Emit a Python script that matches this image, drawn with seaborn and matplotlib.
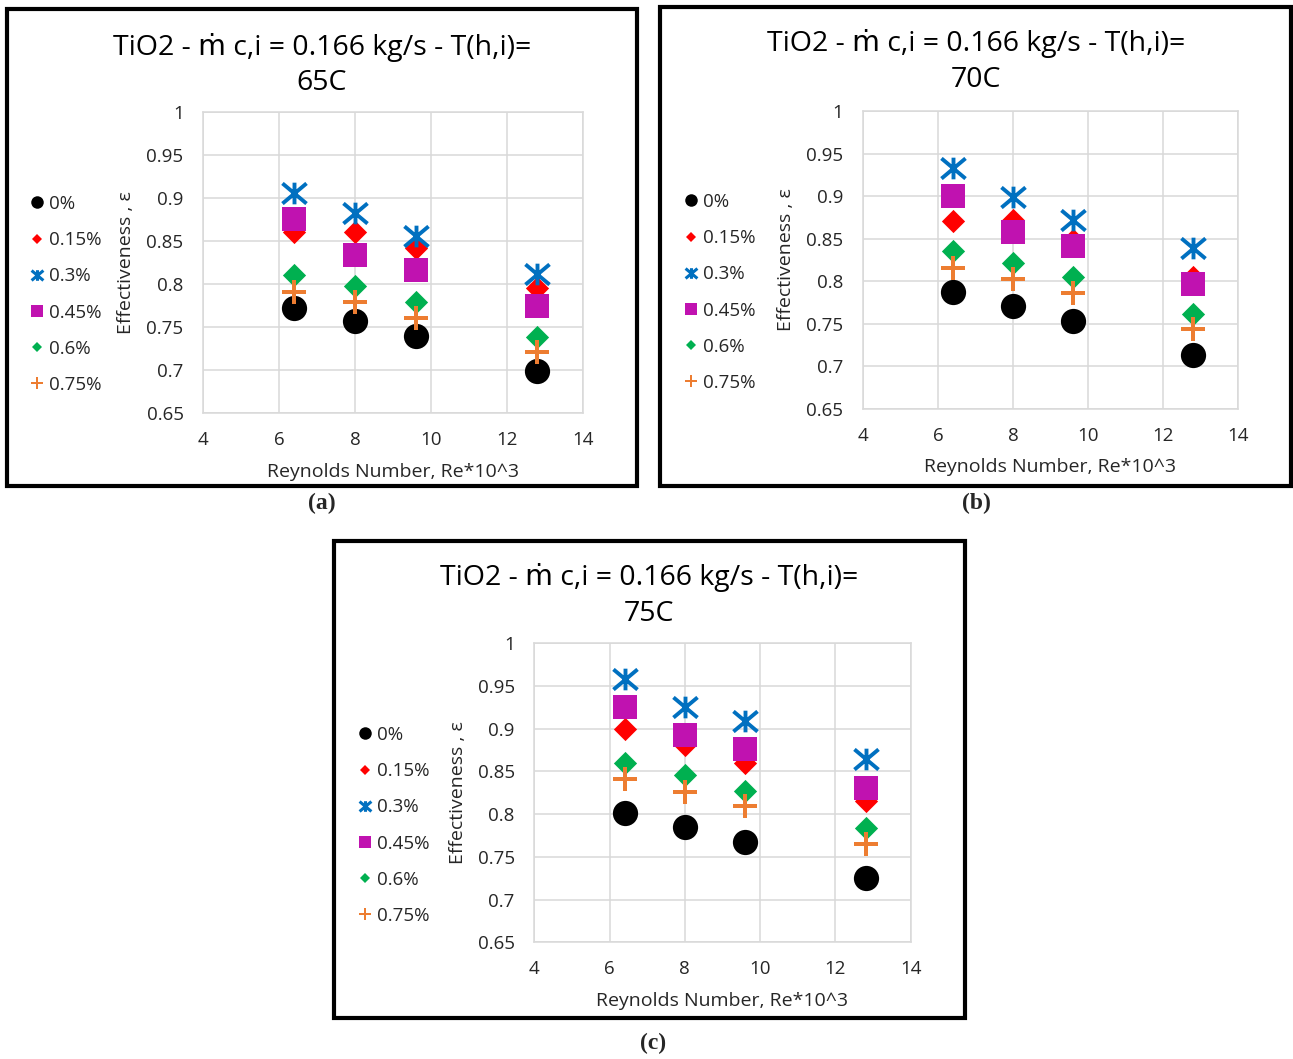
import numpy as np
import pandas as pd
import matplotlib
matplotlib.use("Agg")
import matplotlib.pyplot as plt
from matplotlib.path import Path
from matplotlib.lines import Line2D
from matplotlib.patches import Rectangle
from matplotlib.ticker import FuncFormatter, MultipleLocator
import seaborn as sns

# ---------------------------------------------------------------- data
concentrations = ["0%", "0.15%", "0.3%", "0.45%", "0.6%", "0.75%"]
reynolds = [6.4, 8.0, 9.6, 12.8]          # Re * 10^3

# effectiveness, one row per nanofluid concentration
eff_65c = [
    [0.772, 0.757, 0.739, 0.699],
    [0.861, 0.861, 0.842, 0.795],
    [0.906, 0.883, 0.856, 0.812],
    [0.876, 0.834, 0.816, 0.774],
    [0.810, 0.798, 0.779, 0.738],
    [0.791, 0.779, 0.761, 0.721],
]
eff_70c = [
    [0.787, 0.771, 0.753, 0.713],
    [0.871, 0.872, 0.849, 0.805],
    [0.933, 0.899, 0.872, 0.839],
    [0.900, 0.858, 0.842, 0.797],
    [0.836, 0.821, 0.805, 0.761],
    [0.816, 0.803, 0.786, 0.744],
]
eff_75c = [
    [0.801, 0.785, 0.767, 0.725],
    [0.900, 0.881, 0.860, 0.815],
    [0.958, 0.925, 0.909, 0.865],
    [0.925, 0.893, 0.876, 0.831],
    [0.860, 0.846, 0.827, 0.784],
    [0.841, 0.826, 0.810, 0.765],
]
hot_inlet_temps = ["65C", "70C", "75C"]
panel_tags = ["(a)", "(b)", "(c)"]
x_ticks = [4, 6, 8, 10, 12, 14]

# ---------------------------------------------------------------- style
sns.set_theme(style="white")
plt.rcParams["font.family"] = ["Open Sans", "DejaVu Sans"]

W, H = 1293, 1059
fig = plt.figure(figsize=(W / 100, H / 100), dpi=100)


def fx(px):
    return px / W


def fy(py):
    return 1 - py / H


# custom marker shapes
asterisk = Path(
    [(0, -0.45), (0, 0.45), (-0.5, -0.42), (0.5, 0.42), (-0.5, 0.42), (0.5, -0.42)],
    [Path.MOVETO, Path.LINETO] * 3,
)
_t, _l = 0.1, 0.5
plus_shape = Path(
    [(-_t, -_l), (_t, -_l), (_t, -_t), (_l, -_t), (_l, _t), (_t, _t), (_t, _l),
     (-_t, _l), (-_t, _t), (-_l, _t), (-_l, -_t), (-_t, -_t), (-_t, -_l)],
    closed=True,
)

colors = ["#000000", "#FF0000", "#0070C0", "#C012B0", "#00B050", "#ED7D31"]
markers = ["o", "D", asterisk, "s", "D", plus_shape]
sizes = [330, 140, 300, 290, 140, 300]
widths = [0, 0, 2.8, 0, 0, 0]
legend_ms = [9, 5.2, 8.5, 8, 5.2, 8.5]
legend_mew = [0, 0, 2.2, 0, 0, 0]

# panel geometry in pixels
panels = [
    dict(box=(7, 9.5, 637, 486), axes=(203, 112, 583, 413), leg=(29, 195),
         title=(322, 47), tag=(322, 503), data=eff_65c),
    dict(box=(660.5, 7, 1291, 486), axes=(862.7, 111, 1238.3, 409), leg=(683, 193),
         title=(976, 44), tag=(976, 503), data=eff_70c),
    dict(box=(334, 541, 964.5, 1018), axes=(534.3, 643.3, 910.7, 942.3), leg=(357, 726),
         title=(649, 578), tag=(653, 1043), data=eff_75c),
]

grid_col = "#D9D9D9"
text_col = "#262626"

for p, temp, tag in zip(panels, hot_inlet_temps, panel_tags):
    bl, bt, br, bb = p["box"]
    fig.patches.append(Rectangle((fx(bl), fy(bb)), fx(br - bl), (bb - bt) / H,
                                 transform=fig.transFigure, fill=False,
                                 edgecolor="black", linewidth=3, zorder=0))

    al, at, ar, ab = p["axes"]
    ax = fig.add_axes([fx(al), fy(ab), fx(ar - al), (ab - at) / H])

    rows = []
    for conc, vals in zip(concentrations, p["data"]):
        for re, v in zip(reynolds, vals):
            rows.append({"Re": re, "eff": v, "conc": conc})
    df = pd.DataFrame(rows)

    for i, conc in enumerate(concentrations):
        sns.scatterplot(data=df[df["conc"] == conc], x="Re", y="eff", ax=ax,
                        marker=markers[i], color=colors[i], s=sizes[i],
                        linewidth=widths[i], edgecolor=colors[i],
                        legend=False, zorder=3 + i)

    ax.set_xlim(4, 14)
    ax.set_ylim(0.65, 1.0)
    ax.set_xticks(x_ticks)
    ax.yaxis.set_major_locator(MultipleLocator(0.05))
    ax.yaxis.set_major_formatter(FuncFormatter(lambda v, _: f"{v:.2f}".rstrip("0").rstrip(".")))
    ax.grid(True, color=grid_col, linewidth=1.1)
    ax.set_axisbelow(True)
    for s in ax.spines.values():
        s.set_color(grid_col)
        s.set_linewidth(1.1)
    ax.tick_params(axis="both", length=0, labelsize=13.5, labelcolor=text_col)
    ax.tick_params(axis="y", pad=14)
    ax.tick_params(axis="x", pad=13)
    ax.set_xlabel("Reynolds Number, Re*10^3", fontsize=14, color=text_col)
    ax.set_ylabel("Effectiveness , ε", fontsize=14, color=text_col)
    ax.xaxis.set_label_coords(0.5, -0.165)
    ax.yaxis.set_label_coords(-0.18, 0.5)

    handles = [Line2D([], [], linestyle="none", marker=markers[i], color=colors[i],
                      markerfacecolor=colors[i], markeredgecolor=colors[i],
                      markersize=legend_ms[i], markeredgewidth=legend_mew[i])
               for i in range(len(concentrations))]
    lx, ly = p["leg"]
    fig.legend(handles, concentrations, loc="upper left",
               bbox_to_anchor=(fx(lx), fy(ly)), bbox_transform=fig.transFigure,
               frameon=False, fontsize=13.5, labelcolor=text_col,
               handlelength=0.85, handletextpad=0.2, labelspacing=0.97,
               borderpad=0, borderaxespad=0)

    tx, ty = p["title"]
    fig.text(fx(tx), fy(ty), "TiO2 - ṁ c,i = 0.166 kg/s - T(h,i)=",
             ha="center", va="center", fontsize=20.5, color="black")
    fig.text(fx(tx), fy(ty + 36), temp, ha="center", va="center",
             fontsize=20.5, color="black")

    gx, gy = p["tag"]
    fig.text(fx(gx), fy(gy), tag, ha="center", va="center", fontsize=17,
             fontweight="bold", family=["Liberation Serif", "DejaVu Serif"])

fig.savefig("out.png", dpi=100, facecolor="white")
